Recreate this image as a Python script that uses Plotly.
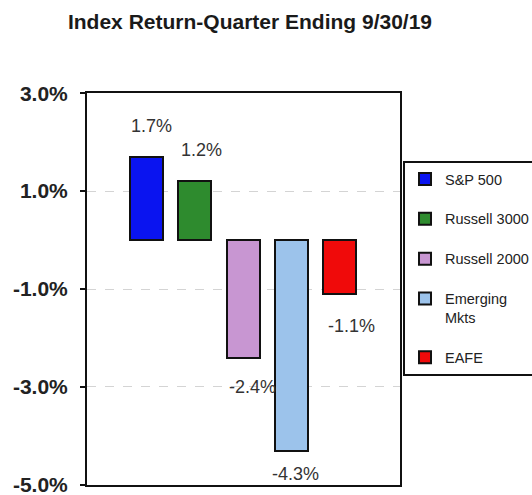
import plotly.graph_objects as go

# ---- data ----
indices = ["S&P 500", "Russell 3000", "Russell 2000", "Emerging<br>Mkts", "EAFE"]
returns = [1.7, 1.2, -2.4, -4.3, -1.1]
y_ticks = [-5.0, -3.0, -1.0, 1.0, 3.0]
y_tick_text = [f"{v:.1f}%" for v in y_ticks]

# ---- style ----
colors = ["#0A14F0", "#2E8B2E", "#C896D2", "#9CC3EB", "#F00A0A"]
label_dx = [5, 7, 9, 4, 12]
label_dy = [31, 31, 29, 23, 32]
FONT = "Liberation Sans, Arial, sans-serif"

fig = go.Figure()
for i, (name, val, col) in enumerate(zip(indices, returns, colors)):
    fig.add_trace(go.Bar(
        x=[i], y=[val], name=name, legendgroup=f"g{i}",
        width=0.68,
        marker=dict(color=col, line=dict(color="#111111", width=2)),
        hoverinfo="skip",
    ))
    fig.add_annotation(
        x=i, y=val, xref="x", yref="y",
        text=f"{val:.1f}%", showarrow=False,
        xshift=label_dx[i], yshift=label_dy[i] if val >= 0 else -label_dy[i],
        font=dict(family=FONT, size=18, color="#333333"),
    )

fig.update_layout(
    width=532, height=495,
    margin=dict(l=87, r=132, t=93, b=10, autoexpand=False),
    paper_bgcolor="white", plot_bgcolor="white",
    title=dict(text="<b>Index Return-Quarter Ending 9/30/19</b>",
               x=250 / 532, xanchor="center", xref="container",
               y=1 - 22 / 495, yanchor="middle",
               font=dict(family=FONT, size=21, color="#1a1a1a")),
    showlegend=True,
    legend=dict(
        x=1.0096, xanchor="left", y=(485 - 161) / 392, yanchor="top",
        bgcolor="white", bordercolor="#111111", borderwidth=2,
        font=dict(family=FONT, size=14.5, color="#222222"),
        tracegroupgap=18, valign="top",
    ),
    bargap=0,
)
fig.update_xaxes(
    range=[-1.231, 5.243], showticklabels=False, showgrid=False,
    zeroline=False, showline=True, mirror=True, linecolor="#111111", linewidth=2,
    ticks="",
)
fig.update_yaxes(
    range=[-5.003, 3.003], tickmode="array", tickvals=y_ticks, ticktext=y_tick_text,
    showgrid=True, gridcolor="#d4d4d4", griddash="dash", gridwidth=1,
    zeroline=False, showline=True, mirror=True, linecolor="#111111", linewidth=2,
    ticks="outside", ticklen=5, tickcolor="#111111", tickwidth=1.5,
    ticklabelstandoff=8, ticklabeloverflow="allow",
    tickfont=dict(family=FONT, size=21, color="#222222", weight="bold"),
)

fig.write_html("out.html")
